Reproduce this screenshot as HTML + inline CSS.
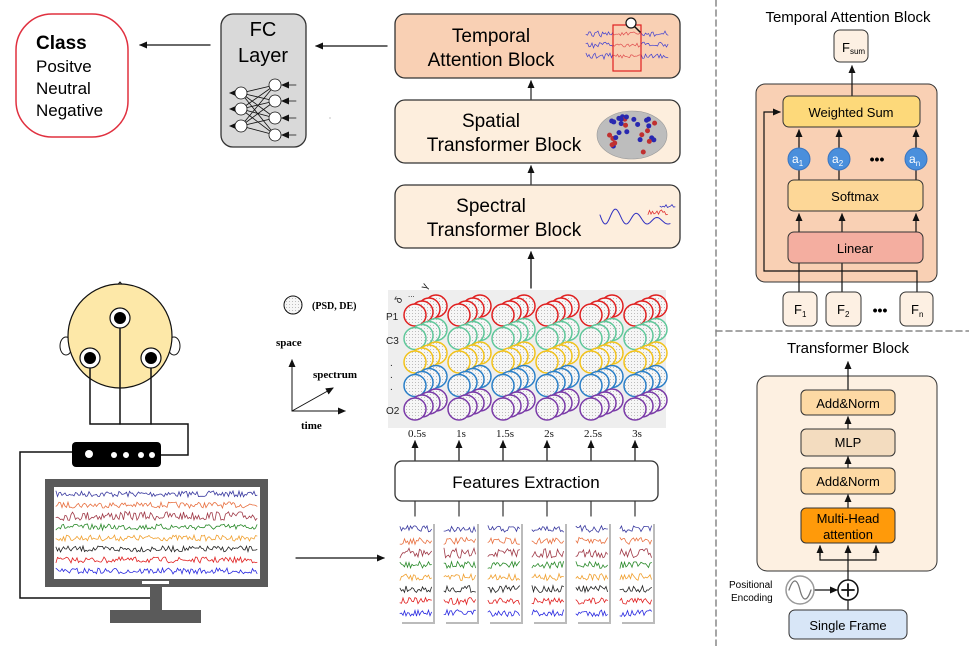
<!DOCTYPE html>
<html><head><meta charset="utf-8"><style>
html,body{margin:0;padding:0;background:#fff}
svg{display:block;font-family:"Liberation Sans",sans-serif}
</style></head><body>
<svg id="s" width="969" height="646" viewBox="0 0 969 646" xmlns="http://www.w3.org/2000/svg">
<defs>
<marker id="ah" markerWidth="8" markerHeight="8" refX="7" refY="4" orient="auto" markerUnits="userSpaceOnUse"><path d="M0,0.5 L8,4 L0,7.5 z" fill="#111"/></marker>
<pattern id="dots" width="3" height="3" patternUnits="userSpaceOnUse"><rect width="3" height="3" fill="#f6f6f6"/><circle cx="1.5" cy="1.5" r="0.5" fill="#aaa"/></pattern>
</defs>
<g id="main" stroke-linecap="round">
<rect x="16" y="14" width="112" height="123" rx="36" fill="#fff" stroke="#e0303f" stroke-width="1.5"/>
<text x="36" y="49" font-size="19" font-weight="bold">Class</text>
<text x="36" y="72" font-size="17">Positve</text>
<text x="36" y="94" font-size="17">Neutral</text>
<text x="36" y="116" font-size="17">Negative</text>
<line x1="210" y1="45" x2="140" y2="45" stroke="#111" stroke-width="1.3" marker-end="url(#ah)"/>
<rect x="221" y="14" width="85" height="133" rx="12" fill="#d9d9d9" stroke="#333" stroke-width="1.3"/>
<text x="263" y="36" font-size="20" text-anchor="middle">FC</text>
<text x="263" y="62" font-size="20" text-anchor="middle">Layer</text>
<g stroke="#111" stroke-width="0.8" fill="#fff" id="fc"></g>
<line x1="387" y1="46" x2="316" y2="46" stroke="#111" stroke-width="1.3" marker-end="url(#ah)"/>
<circle cx="330" cy="118" r="0.6" fill="#999"/>
<rect x="395" y="14" width="285" height="64" rx="10" fill="#f9d0b4" stroke="#333" stroke-width="1.3"/>
<text x="491" y="42" font-size="19" text-anchor="middle">Temporal</text>
<text x="491" y="66" font-size="19" text-anchor="middle">Attention Block</text>
<g id="tmpw"></g>
<rect x="613" y="25" width="28" height="46" fill="none" stroke="#e02020" stroke-width="1.2"/>
<circle cx="631" cy="23" r="5" fill="#fff" stroke="#111" stroke-width="1.2"/><line x1="635" y1="27" x2="640" y2="32" stroke="#111" stroke-width="1.5"/>
<line x1="531" y1="99" x2="531" y2="81" stroke="#333" stroke-width="1.3" marker-end="url(#ah)"/>
<rect x="395" y="100" width="285" height="63" rx="10" fill="#fdeedd" stroke="#333" stroke-width="1.3"/>
<text x="491" y="127" font-size="19" text-anchor="middle">Spatial</text>
<text x="504" y="151" font-size="19" text-anchor="middle">Transformer Block</text>
<ellipse cx="632" cy="135" rx="35" ry="24" fill="#bdbdbd" stroke="#999" stroke-width="0.6"/>
<g id="brain"></g>
<line x1="531" y1="184" x2="531" y2="166" stroke="#333" stroke-width="1.3" marker-end="url(#ah)"/>
<rect x="395" y="185" width="285" height="63" rx="10" fill="#fdeedd" stroke="#333" stroke-width="1.3"/>
<text x="491" y="212" font-size="19" text-anchor="middle">Spectral</text>
<text x="504" y="236" font-size="19" text-anchor="middle">Transformer Block</text>
<g id="spec"></g>
<line x1="531" y1="288" x2="531" y2="252" stroke="#111" stroke-width="1.3" marker-end="url(#ah)"/>
<rect x="388" y="290" width="278" height="138" fill="#eeeeee"/>
<g id="grid"></g>
<g font-size="10" fill="#222">
<text x="386" y="320">P1</text><text x="386" y="344">C3</text>
<text x="390" y="366">.</text><text x="390" y="378">.</text><text x="390" y="390">.</text>
<text x="386" y="414">O2</text>
<text x="400" y="304" transform="rotate(-60 400 304)">δ</text>
<text x="408" y="297" font-size="8">...</text>
<text x="426" y="290" transform="rotate(-60 426 290)">γ</text>
</g>
<g font-family="Liberation Serif,serif" font-size="11" text-anchor="middle" fill="#111">
<text x="417" y="437">0.5s</text><text x="461" y="437">1s</text><text x="505" y="437">1.5s</text><text x="549" y="437">2s</text><text x="593" y="437">2.5s</text><text x="637" y="437">3s</text>
</g>
<g id="farr"></g>
<rect x="395" y="461" width="263" height="40" rx="7" fill="#fff" stroke="#333" stroke-width="1.3"/>
<text x="526" y="488" font-size="17" text-anchor="middle">Features Extraction</text>
<g id="strips"></g>
<line x1="296" y1="558" x2="384" y2="558" stroke="#111" stroke-width="1.2" marker-end="url(#ah)"/>
<circle cx="293" cy="305" r="9" fill="url(#dots)" stroke="#111" stroke-width="1"/>
<text x="312" y="309" font-family="Liberation Serif,serif" font-weight="bold" font-size="10">(PSD, DE)</text>
<text x="276" y="346" font-family="Liberation Serif,serif" font-weight="bold" font-size="11">space</text>
<text x="313" y="378" font-family="Liberation Serif,serif" font-weight="bold" font-size="11">spectrum</text>
<text x="301" y="429" font-family="Liberation Serif,serif" font-weight="bold" font-size="11">time</text>
<g stroke="#111" stroke-width="1"><line x1="292" y1="411" x2="292" y2="360" marker-end="url(#ah)"/><line x1="292" y1="411" x2="345" y2="411" marker-end="url(#ah)"/><line x1="292" y1="411" x2="333" y2="388" marker-end="url(#ah)"/></g>
<path d="M113,290 L120,282 L127,290 Z" fill="#fff" stroke="#111"/>
<ellipse cx="66" cy="346" rx="6" ry="9" fill="#fff" stroke="#111"/>
<ellipse cx="174" cy="346" rx="6" ry="9" fill="#fff" stroke="#111"/>
<circle cx="120" cy="336" r="52" fill="#fde8a8" stroke="#111" stroke-width="1.2"/>
<g stroke="#111" stroke-width="1.5" fill="none">
<polyline points="90,358 90,424 188,424 188,455 161,455"/>
<line x1="120" y1="320" x2="120" y2="424"/><line x1="151" y1="358" x2="151" y2="424"/>
<polyline points="72,452 20,452 20,598 152,598"/>
</g>
<g fill="#fff" stroke="#111" stroke-width="1.2">
<circle cx="120" cy="318" r="10"/><circle cx="90" cy="358" r="10"/><circle cx="151" cy="358" r="10"/></g>
<g fill="#000"><circle cx="120" cy="318" r="6"/><circle cx="90" cy="358" r="6"/><circle cx="151" cy="358" r="6"/></g>
<rect x="72" y="442" width="89" height="25" rx="4" fill="#000"/>
<g fill="#fff"><circle cx="89" cy="454" r="4"/><circle cx="114" cy="455" r="3"/><circle cx="126" cy="455" r="3"/><circle cx="141" cy="455" r="3"/><circle cx="152" cy="455" r="3"/></g>
<rect x="45" y="479" width="223" height="108" fill="#5a5a5a"/>
<rect x="54" y="487" width="206" height="92" fill="#fff"/>
<rect x="142" y="581" width="27" height="3" fill="#fff"/>
<rect x="150" y="587" width="12" height="24" fill="#5a5a5a"/>
<rect x="110" y="610" width="91" height="13" fill="#5a5a5a"/>
<g id="mon"></g>
<g stroke="#888" stroke-width="1.5" stroke-dasharray="6,4"><line x1="716" y1="0" x2="716" y2="646"/><line x1="716" y1="331" x2="969" y2="331"/></g>
<text x="848" y="22" font-size="15" text-anchor="middle">Temporal Attention Block</text>
<rect x="834" y="30" width="34" height="32" rx="6" fill="#fdf0e3" stroke="#333"/>
<text x="842" y="52" font-size="13">F<tspan font-size="8" dy="2">sum</tspan></text>
<rect x="756" y="84" width="181" height="198" rx="9" fill="#f9d0b4" stroke="#333"/>
<line x1="852" y1="96" x2="852" y2="66" stroke="#111" stroke-width="1.2" marker-end="url(#ah)"/>
<g stroke="#111" stroke-width="1.2" fill="none">
<polyline points="917,292 917,271 764,271 764,112 780,112" marker-end="url(#ah)"/>
<line x1="799" y1="292" x2="799" y2="263"/><line x1="842" y1="292" x2="842" y2="263"/>
<line x1="799" y1="232" x2="799" y2="214" marker-end="url(#ah)"/><line x1="842" y1="232" x2="842" y2="214" marker-end="url(#ah)"/><line x1="916" y1="232" x2="916" y2="214" marker-end="url(#ah)"/>
<line x1="799" y1="180" x2="799" y2="130" marker-end="url(#ah)"/><line x1="839" y1="180" x2="839" y2="130" marker-end="url(#ah)"/><line x1="916" y1="180" x2="916" y2="130" marker-end="url(#ah)"/>
</g>
<rect x="783" y="96" width="137" height="31" rx="6" fill="#fdd97a" stroke="#333"/>
<text x="851" y="117" font-size="13" text-anchor="middle">Weighted Sum</text>
<g fill="#4a8fdc" stroke="#3a75c0"><circle cx="799" cy="159" r="11"/><circle cx="839" cy="159" r="11"/><circle cx="916" cy="159" r="11"/></g>
<g fill="#fff" font-size="12"><text x="792" y="163">a<tspan font-size="8" dy="3">1</tspan></text><text x="832" y="163">a<tspan font-size="8" dy="3">2</tspan></text><text x="909" y="163">a<tspan font-size="8" dy="3">n</tspan></text></g>
<text x="877" y="164" font-size="14" text-anchor="middle" font-weight="bold">•••</text>
<rect x="788" y="180" width="135" height="31" rx="6" fill="#fdd797" stroke="#333"/>
<text x="855" y="201" font-size="13" text-anchor="middle">Softmax</text>
<rect x="788" y="232" width="135" height="31" rx="6" fill="#f4aea0" stroke="#333"/>
<text x="855" y="253" font-size="13" text-anchor="middle">Linear</text>
<g fill="#fdf0e3" stroke="#333"><rect x="783" y="292" width="34" height="34" rx="6"/><rect x="826" y="292" width="35" height="34" rx="6"/><rect x="900" y="292" width="33" height="34" rx="6"/></g>
<g font-size="13"><text x="794" y="314">F<tspan font-size="8" dy="3">1</tspan></text><text x="837" y="314">F<tspan font-size="8" dy="3">2</tspan></text><text x="911" y="314">F<tspan font-size="8" dy="3">n</tspan></text></g>
<text x="880" y="315" font-size="14" text-anchor="middle" font-weight="bold">•••</text>
<text x="848" y="353" font-size="15" text-anchor="middle">Transformer Block</text>
<rect x="757" y="376" width="180" height="195" rx="10" fill="#fdf0e1" stroke="#333"/>
<g stroke="#111" stroke-width="1.2" fill="none">
<line x1="848" y1="390" x2="848" y2="362" marker-end="url(#ah)"/>
<line x1="848" y1="429" x2="848" y2="417" marker-end="url(#ah)"/>
<line x1="848" y1="468" x2="848" y2="457" marker-end="url(#ah)"/>
<line x1="848" y1="508" x2="848" y2="495" marker-end="url(#ah)"/>
<line x1="848" y1="610" x2="848" y2="601"/>
<line x1="848" y1="580" x2="848" y2="546" marker-end="url(#ah)"/>
<polyline points="820,546 820,560 876,560 876,546"/>
<line x1="820" y1="556" x2="820" y2="546" marker-end="url(#ah)"/><line x1="876" y1="556" x2="876" y2="546" marker-end="url(#ah)"/>
<line x1="815" y1="590" x2="837" y2="590" marker-end="url(#ah)"/>
</g>
<g stroke="#333"><rect x="801" y="390" width="94" height="25" rx="5" fill="#fdd9a4"/><rect x="801" y="429" width="94" height="27" rx="5" fill="#f3dcbf"/><rect x="801" y="468" width="94" height="26" rx="5" fill="#fdd9a4"/><rect x="801" y="508" width="94" height="35" rx="5" fill="#ff9a0a"/></g>
<g font-size="13" text-anchor="middle"><text x="848" y="408">Add&amp;Norm</text><text x="848" y="447">MLP</text><text x="848" y="486">Add&amp;Norm</text><text x="848" y="523">Multi-Head</text><text x="848" y="539">attention</text></g>
<circle cx="848" cy="590" r="10" fill="#fff" stroke="#111" stroke-width="1.5"/>
<path d="M842,590 H854 M848,584 V596" stroke="#111" stroke-width="1.8"/>
<circle cx="800" cy="590" r="14" fill="#fff" stroke="#999" stroke-width="1.5"/>
<path d="M789,590 C793,578 797,578 800,590 C803,602 807,602 811,590" fill="none" stroke="#777" stroke-width="1.3"/>
<text x="729" y="588" font-size="10">Positional</text><text x="731" y="601" font-size="10">Encoding</text>
<rect x="789" y="610" width="118" height="29" rx="6" fill="#d8e6f7" stroke="#333"/>
<text x="848" y="630" font-size="13" text-anchor="middle">Single Frame</text>
</g>
</svg>
<script>
var NS="http://www.w3.org/2000/svg";
function el(p,t,a){var e=document.createElementNS(NS,t);for(var k in a)e.setAttribute(k,a[k]);document.getElementById(p).appendChild(e);return e;}
var seed=7;function rnd(){seed=(seed*16807)%2147483647;return seed/2147483647;}
function wave(p,x0,x1,y,amp,col,w,step){var pts=[];for(var x=x0;x<=x1;x+=step){pts.push(x.toFixed(1)+","+(y+(rnd()-0.5)*2*amp).toFixed(1));}el(p,"polyline",{points:pts.join(" "),fill:"none",stroke:col,"stroke-width":w||0.8});}
var cols=["#3a3aa0","#e87040","#a03a48","#2a8a2a","#f0a030","#222","#e02020","#2a2ae0"];
for(var i=0;i<8;i++)wave("mon",56,258,494+i*11,i==2?4.5:3,cols[i],0.8,1.5);
for(var c=0;c<6;c++){var x=400+c*44;el("strips","rect",{x:x+2,y:524,width:33,height:100,fill:"#bbb"});el("strips","rect",{x:x,y:522,width:33,height:100,fill:"#fff"});
for(var i=0;i<8;i++)wave("strips",x,x+32,529+i*12,i==2?5:3.5,cols[i],0.8,1.5);
el("farr","line",{x1:x+15,y1:501,x2:x+15,y2:516,stroke:"#333","stroke-width":1.2});
el("farr","line",{x1:x+15,y1:460,x2:x+15,y2:441,stroke:"#111","stroke-width":1.2,"marker-end":"url(#ah)"});}
var gc=["#e02020","#5fc79a","#f2c21a","#2a7fc8","#7a3aa8"];
for(var c=0;c<6;c++)for(var r=0;r<5;r++){for(var k=3;k>=0;k--){var cx=415+c*44+k*7,cy=315+r*23.5-k*3;el("grid","circle",{cx:cx,cy:cy,r:11,fill:"url(#dots)",stroke:gc[r],"stroke-width":1.5});}}
var L=[[241,93],[241,109],[241,126]],R=[[275,85],[275,101],[275,118],[275,135]];
L.forEach(function(a){R.forEach(function(b){el("fc","line",{x1:a[0],y1:a[1],x2:b[0],y2:b[1]});});el("fc","line",{x1:a[0]-6,y1:a[1],x2:230,y2:a[1],"marker-end":"url(#ah)"});});
R.forEach(function(b){el("fc","line",{x1:296,y1:b[1],x2:282,y2:b[1],"marker-end":"url(#ah)"});});
L.concat(R).forEach(function(a){el("fc","circle",{cx:a[0],cy:a[1],r:6});});
for(var i=0;i<3;i++){wave("tmpw",586,613,34+i*11,3,"#4040d0",0.7,1.5);wave("tmpw",613,641,34+i*11,2,"#e05050",0.7,1.5);wave("tmpw",641,668,34+i*11,3,"#4040d0",0.7,1.5);}
for(var i=0;i<30;i++){var a=rnd()*6.28,d=Math.sqrt(rnd());el("brain","circle",{cx:632+Math.cos(a)*d*30,cy:135+Math.sin(a)*d*20,r:2.5,fill:rnd()<0.5?"#c03030":"#2828b0"});}
var p=[];for(var x=600;x<=670;x+=1)p.push(x+","+(215+Math.sin((x-600)*0.3)*9*(1-(x-600)/90)+(x-600)*0.1));el("spec","polyline",{points:p.join(" "),fill:"none",stroke:"#3030c0","stroke-width":1});
wave("spec",648,668,212,3,"#e03030",0.8,1.5);wave("spec",660,676,206,1.5,"#3030c0",0.8,1.5);
</script>
</body></html>
